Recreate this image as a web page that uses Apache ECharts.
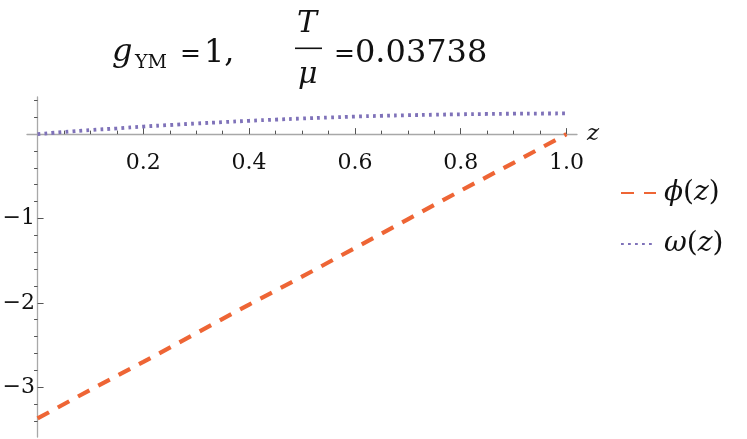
<!DOCTYPE html>
<html>
<head>
<meta charset="utf-8">
<script src="https://cdn.jsdelivr.net/npm/echarts@6/dist/echarts.min.js"></script>
<style>
html,body{margin:0;padding:0;background:#fff;}
#main{width:747px;height:439px;}
</style>
</head>
<body>
<div id="main"></div>
<script>
// ---- data ----
const phiZ = [0, 0.1, 0.2, 0.3, 0.4, 0.5, 0.6, 0.7, 0.8, 0.9, 1.0];
const phiValues = [-3.37, -3.03, -2.70, -2.36, -2.02, -1.69, -1.35, -1.01, -0.67, -0.34, 0];
const omegaZ = [0, 0.05, 0.1, 0.15, 0.2, 0.25, 0.3, 0.35, 0.4, 0.45, 0.5, 0.55, 0.6, 0.65, 0.7, 0.75, 0.8, 0.85, 0.9, 0.95, 1.0];
const omegaValues = [0, 0.025, 0.048, 0.068, 0.09, 0.108, 0.126, 0.142, 0.158, 0.172, 0.185, 0.197, 0.208, 0.217, 0.224, 0.23, 0.235, 0.239, 0.242, 0.244, 0.245];
const seriesNames = ['ϕ(z)', 'ω(z)'];
const xMajorTicks = [0.2, 0.4, 0.6, 0.8, 1.0];
const xMinorTicks = [0.05, 0.1, 0.15, 0.25, 0.3, 0.35, 0.45, 0.5, 0.55, 0.65, 0.7, 0.75, 0.85, 0.9, 0.95];
const yMajorTicks = [-3, -2, -1];
const yMinorTicks = [-3.4, -3.2, -2.8, -2.6, -2.4, -2.2, -1.8, -1.6, -1.4, -1.2, -0.8, -0.6, -0.4, -0.2, 0.2, 0.4];
const xRange = [-0.02, 1.02];
const yRange = [-3.59, 0.44];

const SERIF = '"DejaVu Serif", "Liberation Serif", serif';
const chart = echarts.init(document.getElementById('main'), null, {renderer: 'canvas'});

const axisLineColor = '#a8a8a8';
const tickColor = '#555';

// layout of the plot box
const gridTop = 97, gridBottom = 2, chartH = 439;
const plotH = chartH - gridTop - gridBottom;
// put the horizontal axis where y = 0 falls
const zeroOffset = -plotH * (0 - yRange[0]) / (yRange[1] - yRange[0]);

const option = {
  animation: false,
  backgroundColor: '#fff',
  grid: {left: 27, right: 170, top: gridTop, bottom: gridBottom, containLabel: false, outerBoundsMode: 'none'},
  xAxis: [
    {
      type: 'value', min: xRange[0], max: xRange[1], position: 'bottom', offset: zeroOffset,
      name: 'z', nameLocation: 'end', nameGap: 10,
      nameTextStyle: {fontFamily: SERIF, fontStyle: 'italic', fontSize: 23, color: '#111', verticalAlign: 'middle', padding: [0,0,6,0]},
      axisLine: {show: true, onZero: false, lineStyle: {color: axisLineColor, width: 1.3}},
      axisTick: {show: true, inside: true, length: 6, customValues: xMajorTicks, lineStyle: {color: tickColor, width: 1}},
      axisLabel: {show: true, customValues: xMajorTicks, margin: 18, fontFamily: SERIF, fontSize: 22, color: '#111',
        formatter: v => v.toFixed(1)},
      splitLine: {show: false}
    },
    {
      type: 'value', min: xRange[0], max: xRange[1], position: 'bottom', offset: zeroOffset,
      axisLine: {show: false, onZero: false},
      axisTick: {show: true, inside: true, length: 3.5, customValues: xMinorTicks, lineStyle: {color: tickColor, width: 1}},
      axisLabel: {show: false},
      splitLine: {show: false}
    }
  ],
  yAxis: [
    {
      type: 'value', min: yRange[0], max: yRange[1],
      axisLine: {show: true, onZero: true, lineStyle: {color: axisLineColor, width: 1.3}},
      axisTick: {show: true, inside: true, length: 6, customValues: yMajorTicks, lineStyle: {color: tickColor, width: 1}},
      axisLabel: {show: true, customValues: yMajorTicks, margin: -8, fontFamily: SERIF, fontSize: 22, color: '#111',
        formatter: v => (v < 0 ? '\u2212' : '') + Math.abs(v)},
      splitLine: {show: false}
    },
    {
      type: 'value', min: yRange[0], max: yRange[1],
      axisLine: {show: false, onZero: true},
      axisTick: {show: true, inside: true, length: 3.5, customValues: yMinorTicks, lineStyle: {color: tickColor, width: 1}},
      axisLabel: {show: false},
      splitLine: {show: false}
    }
  ],
  legend: {
    orient: 'vertical', left: 615, top: 174, itemGap: 23,
    itemWidth: 35, itemHeight: 34,
    data: seriesNames,
    itemStyle: {opacity: 0},
    textStyle: {fontFamily: SERIF, fontSize: 28, color: '#111', padding: [0,0,0,3],
      rich: {
        i: {fontFamily: SERIF, fontStyle: 'italic', fontSize: 28, color: '#111'},
        n: {fontFamily: SERIF, fontSize: 28, color: '#111'}
      }
    },
    formatter: name => '{i|' + name[0] + '}{n|(}{i|z}{n|)}'
  },
  series: [
    {
      name: seriesNames[0], type: 'line', xAxisIndex: 0, yAxisIndex: 0,
      data: phiZ.map((z, i) => [z, phiValues[i]]),
      symbol: 'none', smooth: false,
      lineStyle: {color: '#EE6535', width: 4.2, type: [13, 10], cap: 'butt'},
      itemStyle: {color: '#EE6535'},
      z: 3
    },
    {
      name: seriesNames[1], type: 'line', xAxisIndex: 0, yAxisIndex: 0,
      data: omegaZ.map((z, i) => [z, omegaValues[i]]),
      symbol: 'none', smooth: true,
      lineStyle: {color: '#7F72B9', width: 3.8, type: [2.8, 4.2], cap: 'butt'},
      itemStyle: {color: '#7F72B9'},
      z: 3
    }
  ],
  graphic: [
    {type: 'text', left: 112, top: 37, style: {text: 'g', font: 'italic 32px ' + SERIF, fill: '#111'}},
    {type: 'text', left: 135, top: 54, style: {text: 'YM', font: '19px ' + SERIF, fill: '#111'}},
    {type: 'text', left: 180, top: 42, style: {text: '=', font: '25px ' + SERIF, fill: '#111'}},
    {type: 'text', left: 204, top: 38, style: {text: '1,', font: '32px ' + SERIF, fill: '#111'}},
    {type: 'text', left: 297, top: 9, style: {text: 'T', font: 'italic 30px ' + SERIF, fill: '#111'}},
    {type: 'rect', shape: {x: 295, y: 47.5, width: 27, height: 1.6}, style: {fill: '#111'}},
    {type: 'text', left: 298, top: 60, style: {text: 'μ', font: 'italic 30px ' + SERIF, fill: '#111'}},
    {type: 'text', left: 334, top: 42, style: {text: '=', font: '25px ' + SERIF, fill: '#111'}},
    {type: 'text', left: 355, top: 38, style: {text: '0.03738', font: '32px ' + SERIF, fill: '#111'}}
  ]
};
chart.setOption(option);
</script>
</body>
</html>
